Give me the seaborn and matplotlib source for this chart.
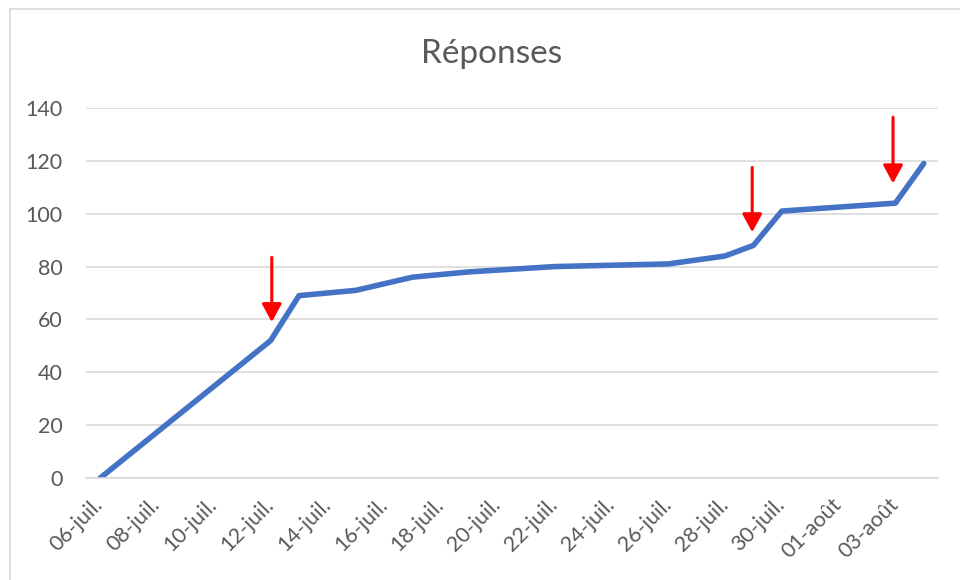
import matplotlib
matplotlib.use("Agg")
import matplotlib.pyplot as plt
import matplotlib.dates as mdates
import matplotlib.transforms as mtransforms
import seaborn as sns
import pandas as pd
import numpy as np

# ---- data ----
dates = ["2020-07-06", "2020-07-12", "2020-07-13", "2020-07-15", "2020-07-17",
         "2020-07-19", "2020-07-22", "2020-07-26", "2020-07-28", "2020-07-29",
         "2020-07-30", "2020-08-03", "2020-08-04"]
responses = [0, 52, 69, 71, 76, 78, 80, 81, 84, 88, 101, 104, 119]

tick_dates = ["2020-07-06", "2020-07-08", "2020-07-10", "2020-07-12", "2020-07-14",
              "2020-07-16", "2020-07-18", "2020-07-20", "2020-07-22", "2020-07-24",
              "2020-07-26", "2020-07-28", "2020-07-30", "2020-08-01", "2020-08-03"]
tick_labels = ["06-juil.", "08-juil.", "10-juil.", "12-juil.", "14-juil.",
               "16-juil.", "18-juil.", "20-juil.", "22-juil.", "24-juil.",
               "26-juil.", "28-juil.", "30-juil.", "01-août", "03-août"]

# red arrow annotations (x date, y start, y tip)
arrow_x = ["2020-07-12 01:00", "2020-07-28 23:00", "2020-08-02 22:00"]
arrow_y_start = [83.5, 117.5, 136.5]
arrow_y_tip = [59.0, 93.0, 111.5]

title = "Réponses"

# ---- plot ----
sns.set_theme(style="white")
plt.rcParams["font.family"] = ["Lato", "DejaVu Sans"]

df = pd.DataFrame({"date": pd.to_datetime(dates), "n": responses})

fig = plt.figure(figsize=(9.6, 5.8), dpi=100)
ax = fig.add_axes([86 / 960, 1 - 478 / 580, 852 / 960, 370 / 580])

sns.lineplot(data=df, x="date", y="n", ax=ax, color="#4472C4", linewidth=4.0,
             solid_capstyle="round", solid_joinstyle="round")

start = pd.Timestamp(dates[0]) - pd.Timedelta(hours=12)
end = pd.Timestamp("2020-08-04") + pd.Timedelta(hours=12)
ax.set_xlim(start, end)
ax.set_ylim(0, 140)
ax.set_yticks(np.arange(0, 141, 20))
ax.yaxis.grid(True, color="#D9D9D9", linewidth=1.2)
ax.xaxis.grid(False)

ax.set_xticks(pd.to_datetime(tick_dates))
ax.set_xticklabels(tick_labels, rotation=45, ha="right", va="center",
                   rotation_mode="anchor")
offset = mtransforms.ScaledTranslation(5 / 100, 0, fig.dpi_scale_trans)
for lab in ax.get_xticklabels():
    lab.set_transform(lab.get_transform() + offset)
minor = pd.date_range(start, end, freq="2D")
ax.set_xticks(minor, minor=True)
ax.tick_params(axis="x", which="major", length=0, pad=17, labelsize=15.5, colors="#595959")
ax.tick_params(axis="x", which="minor", length=7, width=1.2, color="#D9D9D9", direction="out")
ax.tick_params(axis="y", length=0, pad=17, labelsize=15.5, colors="#595959")

for s in ["top", "right", "left"]:
    ax.spines[s].set_visible(False)
ax.spines["bottom"].set_color("#D9D9D9")
ax.spines["bottom"].set_linewidth(1.2)
ax.set_xlabel("")
ax.set_ylabel("")

for xa, ys, yt in zip(arrow_x, arrow_y_start, arrow_y_tip):
    xd = mdates.date2num(pd.Timestamp(xa))
    ax.annotate("", xy=(xd, yt), xytext=(xd, ys),
                arrowprops=dict(arrowstyle="-|>,head_width=0.3,head_length=0.55",
                                mutation_scale=20, color="#FF0000", lw=2.2,
                                shrinkA=0, shrinkB=0))

fig.text(492 / 960, 1 - 54 / 580, title, ha="center", va="center",
         fontsize=24, color="#595959", fontweight="normal")

# chart area border (top and left visible)
fig.add_artist(plt.Line2D([10 / 960, 1], [1 - 9 / 580, 1 - 9 / 580],
                          transform=fig.transFigure, color="#D9D9D9", lw=1.2))
fig.add_artist(plt.Line2D([10 / 960, 10 / 960], [0, 1 - 9 / 580],
                          transform=fig.transFigure, color="#D9D9D9", lw=1.2))

fig.savefig("out.png", dpi=100)
